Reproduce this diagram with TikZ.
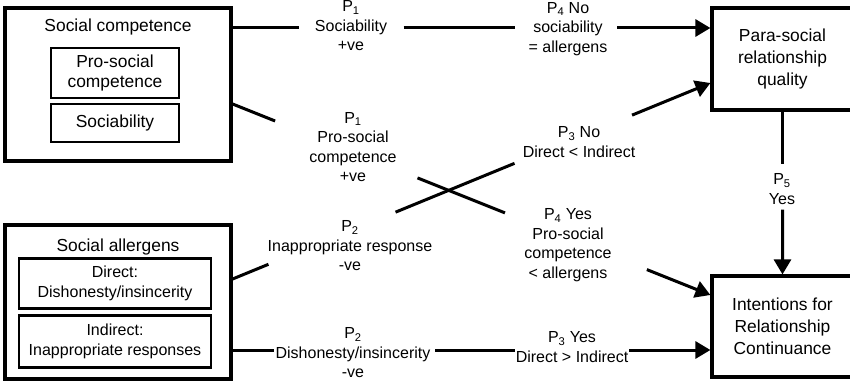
\documentclass[tikz,border=0pt]{standalone}
\usepackage{fontspec}
\setmainfont{Liberation Sans}
\usetikzlibrary{arrows.meta,calc}
\begin{document}
\begin{tikzpicture}[x=1pt,y=-1pt,
  conn/.style={line width=3pt},
  tip/.style={-{Triangle[length=15pt,width=17pt]}},
  outerbox/.style={draw,line width=3.2pt,inner sep=0pt},
  innerbox/.style={draw,line width=2.2pt,inner sep=0pt,align=center,
    font=\fontsize{16}{19.5}\selectfont},
  bigtext/.style={font=\fontsize{17.4}{19.5}\selectfont},
  boxtext/.style={align=center,font=\fontsize{17.4}{22}\selectfont},
  lbl/.style={align=center,inner sep=0pt,font=\fontsize{16}{19.5}\selectfont}]
\useasboundingbox (0,0) rectangle (850,382);

% --- left-hand groups -------------------------------------------------
\node[outerbox,minimum width=226pt,minimum height=153pt] (sc) at (118,84.5) {};
\node[boxtext] (sctitle) at (118,27) {Social competence};
\node[innerbox,bigtext,minimum width=128pt,minimum height=50pt] (psc) at (115,73) {Pro-social\\competence};
\node[innerbox,bigtext,minimum width=128pt,minimum height=38pt] (soc) at (115,123) {Sociability};

\node[outerbox,minimum width=226pt,minimum height=154pt] (sa) at (118,302) {};
\node[boxtext] (satitle) at (118,247) {Social allergens};
\node[innerbox,minimum width=192pt,minimum height=50pt] (dir) at (115,283.5) {Direct:\\Dishonesty/insincerity};
\node[innerbox,minimum width=192pt,minimum height=52pt] (ind) at (115,341.5) {Indirect:\\Inappropriate responses};

% --- outcome boxes ----------------------------------------------------
\node[outerbox,boxtext,minimum width=141pt,minimum height=102pt] (psr) at (782.5,59) {Para-social\\relationship\\quality};
\node[outerbox,boxtext,minimum width=141pt,minimum height=101pt] (irc) at (782.5,326.5) {Intentions for\\Relationship\\Continuance};

% --- connector end points on the box edges -----------------------------
\coordinate (t0) at ([yshift=56.5pt]sc.east);
\coordinate (t1) at ([yshift=31pt]psr.west);
\coordinate (a0) at ([yshift=-19.5pt]sc.east);
\coordinate (a1) at ([yshift=31.5pt]irc.west);
\coordinate (b0) at ([yshift=23pt]sa.east);
\coordinate (b1) at ([yshift=-24pt]psr.west);
\coordinate (d0) at ([yshift=-48pt]sa.east);
\coordinate (d1) at ([yshift=-23.5pt]irc.west);

% --- connectors, broken where the labels sit ----------------------------
\draw[conn] (t0) -- ($(t0)!0.139!(t1)$);
\draw[conn] ($(t0)!0.358!(t1)$) -- ($(t0)!0.590!(t1)$);
\draw[conn,tip] ($(t0)!0.805!(t1)$) -- (t1);

\draw[conn] (a0) -- ($(a0)!0.089!(a1)$);
\draw[conn] ($(a0)!0.387!(a1)$) -- ($(a0)!0.570!(a1)$);
\draw[conn,tip] ($(a0)!0.867!(a1)$) -- (a1);

\draw[conn] (b0) -- ($(b0)!0.075!(b1)$);
\draw[conn] ($(b0)!0.341!(b1)$) -- ($(b0)!0.590!(b1)$);
\draw[conn,tip] ($(b0)!0.836!(b1)$) -- (b1);

\draw[conn] (d0) -- ($(d0)!0.087!(d1)$);
\draw[conn] ($(d0)!0.424!(d1)$) -- ($(d0)!0.590!(d1)$);
\draw[conn,tip] ($(d0)!0.830!(d1)$) -- (d1);

\draw[conn] (psr.south) -- ($(psr.south)!0.319!(irc.north)$);
\draw[conn,tip] ($(psr.south)!0.602!(irc.north)$) -- (irc.north);

% --- path labels -------------------------------------------------------
\node[lbl] (l1) at (351,26) {P\textsubscript{1}\\Sociability\\+ve};
\node[lbl] (l2) at (568,29) {P\textsubscript{4} No\\sociability\\= allergens};
\node[lbl] (l3) at (353,147) {P\textsubscript{1}\\Pro-social\\competence\\+ve};
\node[lbl] (l4) at (579,142) {P\textsubscript{3} No\\Direct < Indirect};
\node[lbl] (l5) at (350,246) {P\textsubscript{2}\\Inappropriate response\\-ve};
\node[lbl] (l6) at (568,245) {P\textsubscript{4} Yes\\Pro-social\\competence\\< allergens};
\node[lbl] (l7) at (353,353) {P\textsubscript{2}\\Dishonesty/insincerity\\-ve};
\node[lbl] (l8) at (572,347) {P\textsubscript{3} Yes\\Direct > Indirect};
\node[lbl] (l9) at (782,189) {P\textsubscript{5}\\Yes};
\end{tikzpicture}
\end{document}
